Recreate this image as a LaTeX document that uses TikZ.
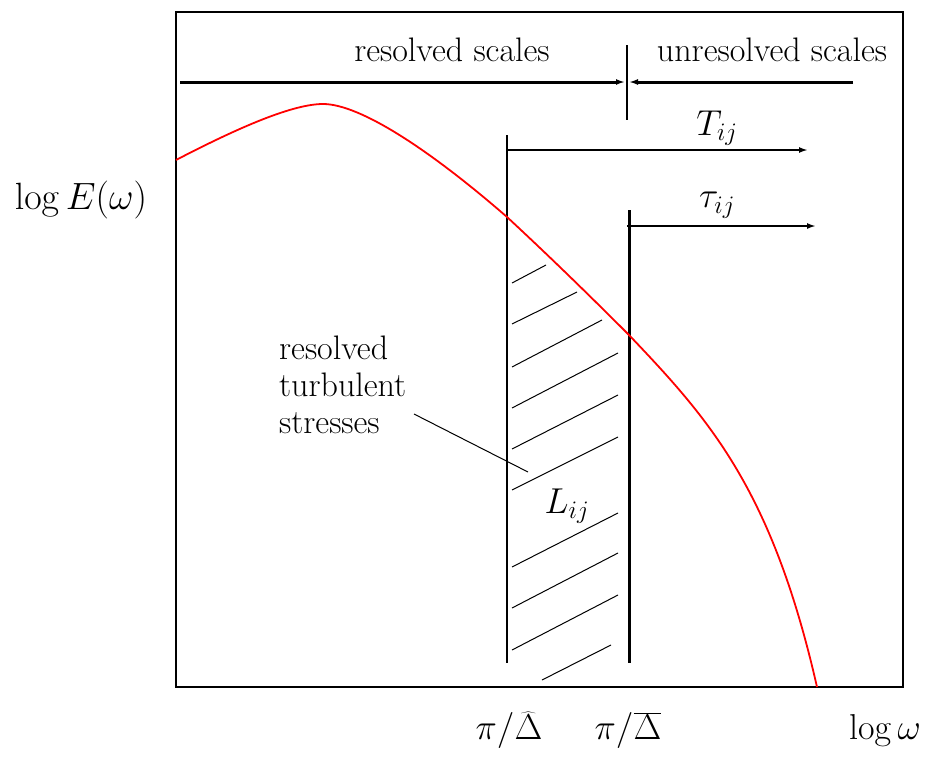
\RequirePackage{fix-cm}
\documentclass[tikz,border=0pt]{standalone}
\usetikzlibrary{arrows.meta}
\begin{document}
\begin{tikzpicture}[x=1pt,y=-1pt,
  frame/.style={line width=2pt},
  thickline/.style={line width=3pt},
  arrline/.style={line width=3pt,-{Latex[length=9pt,width=6pt]}},
  hatch/.style={line width=1pt},
  spectrum/.style={red,line width=1.8pt},
  txt/.style={inner sep=0pt,font=\fontsize{34}{40}\selectfont},
  mth/.style={inner sep=0pt,font=\fontsize{36}{42}\selectfont}]
\useasboundingbox (0,0) rectangle (927,756);
% frame
\draw[frame] (176,12) rectangle (903,687);
% top scale arrows
\coordinate (rl) at (180,82);
\coordinate (rr) at (625,82);
\coordinate (ul) at (629,82);
\coordinate (ur) at (853,82);
\coordinate (tk1) at (627,45);
\coordinate (tk2) at (627,120);
\draw[arrline] (rl) -- (rr);
\draw[arrline] (ur) -- (ul);
\draw[line width=1.5pt] (tk1) -- (tk2);
\node[txt] (res) at (452,50) {resolved scales};
\node[txt] (unres) at (772,50) {unresolved scales};
% vertical filter lines
\coordinate (a1) at (507,135);
\coordinate (a2) at (507,663);
\coordinate (b1) at (629,210);
\coordinate (b2) at (629,663);
\draw[line width=2pt] (a1) -- (a2);
\draw[thickline] (b1) -- (b2);
% T and tau arrows
\coordinate (T1) at (507,150);
\coordinate (T2) at (808,150);
\coordinate (t1) at (627,226);
\coordinate (t2) at (816,226);
\draw[line width=2.6pt,-{Latex[length=9pt,width=6pt]}] (T1) -- (T2);
\draw[line width=2pt,-{Latex[length=9pt,width=6pt]}] (t1) -- (t2);
\node[mth] (Tlab) at (717,128) {$T_{ij}$};
\node[mth] (taulab) at (717,205) {$\tau_{ij}$};
% hatching
\foreach \xa/\ya/\xb/\yb [count=\i] in {512/283/546/265, 512/324/577/292, 512/367/602/320,
   512/408/618/353, 512/449/618/395, 512/490/618/437, 512/567/618/513,
   512/608/618/553, 512/650/618/595, 542/680/611/645}{
  \coordinate (h\i a) at (\xa,\ya);
  \coordinate (h\i b) at (\xb,\yb);
  \draw[hatch] (h\i a) -- (h\i b);
}
\node[mth] (L) at (567,506) {$L_{ij}$};
% label with pointer
\node[txt,align=left,anchor=north west,font=\fontsize{34}{37}\selectfont] (rts) at (279,336) {resolved\\turbulent\\stresses};
\coordinate (p1) at (414,414);
\coordinate (p2) at (528,472);
\draw[line width=1pt] (p1) -- (p2);
% spectrum
\coordinate (s0) at (176,160);
\coordinate (s1) at (323,104);
\coordinate (s2) at (507,217);
\coordinate (s3) at (629,335);
\coordinate (s5) at (817,687);
\draw[spectrum] (s0) .. controls (230,132) and (290,104) .. (s1)
  .. controls (360,104) and (430,150) .. (s2)
  .. controls (548,255) and (588,294) .. (s3)
  .. controls (709,419) and (772,489) .. (s5);
% axis labels
\node[mth,font=\fontsize{38}{44}\selectfont] (ylab) at (81,200) {$\log E(\omega)$};
\node[mth] (x1) at (509,730) {$\pi/\widehat{\Delta}$};
\node[mth] (x2) at (628,730) {$\pi/\overline{\Delta}$};
\node[mth] (x3) at (885,730) {$\log\omega$};
\end{tikzpicture}
\end{document}
